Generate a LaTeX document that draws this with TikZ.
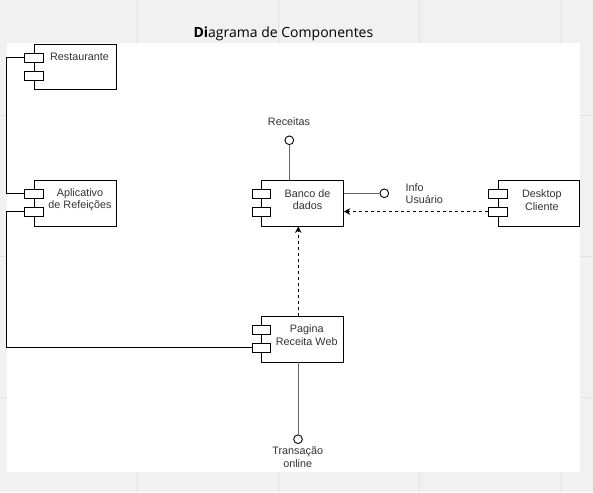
\documentclass[tikz,border=0pt]{standalone}
\usepackage{fontspec}
\setmainfont{Liberation Sans}
\newfontfamily\titlefont{Open Sans}
\usetikzlibrary{arrows.meta}
\definecolor{canvas}{RGB}{241,241,241}
\definecolor{gridline}{RGB}{227,227,227}
\definecolor{txt}{RGB}{51,51,51}

\begin{document}
\begin{tikzpicture}[x=1pt, y=-1pt, font=\fontsize{10.8}{12.7}\selectfont, node distance=136pt,
    comp/.style = {draw, line width=0.9pt, minimum width=81.6pt, minimum height=45.5pt, inner sep=0pt},
    jetty/.style = {draw, fill=white, line width=0.9pt, minimum width=18.5pt, minimum height=9pt, inner sep=0pt},
    lbl/.style = {text=txt, align=center, inner sep=0pt},
    iface/.style = {draw, circle, fill=white, line width=0.9pt, minimum size=8.7pt, inner sep=0pt},
    stick/.style = {draw=black!60, line width=1pt},
    dep/.style = {-{Stealth[length=6.5pt, width=6.5pt]}, line width=0.9pt, dash pattern=on 3pt off 3pt}]
    \useasboundingbox (0,0) rectangle (593,492);
    % canvas and grid
    \fill[canvas] (0,0) rectangle (593,492);
    \foreach \k in {1,...,4} \draw[gridline] (-4.3+141.3*\k,0) -- (-4.3+141.3*\k,492);
    \foreach \k in {1,...,3} \draw[gridline] (0,-26.3+141.3*\k) -- (593,-26.3+141.3*\k);
    \fill[white] (7,43) rectangle (580,472);
    \node[font=\titlefont\fontsize{14}{16}\selectfont, inner sep=0pt] (title) at (283.4,34) {\textbf{Di}agrama de Componentes};
    % components
    \node[comp] (rest) at (75.2,67.2) {};
    \node[comp] (app) [below of=rest] {};
    \node[comp] (bd) at (302.5,203.2) {};
    \node[comp] (web) [below of=bd] {};
    \node[comp] (desk) at (539,203.2) {};
    \foreach \c in {rest,app,bd,web,desk} {
        \node[jetty] (\c-j1) at ([yshift=-13.5pt]\c.north west) {};
        \node[jetty] (\c-j2) at ([yshift=-31.5pt]\c.north west) {};
    }
    \node[lbl] (rest-t) at ([shift={(4.3,-10.2)}]rest.center) {Restaurante};
    \node[lbl] (app-t) at ([shift={(4.8,-3.5)}]app.center) {Aplicativo\\de Refeições};
    \node[lbl] (bd-t) at ([shift={(5,-3.6)}]bd.center) {Banco de\\dados};
    \node[lbl] (web-t) at ([shift={(4.2,-4)}]web.center) {Pagina\\Receita Web};
    \node[lbl] (desk-t) at ([shift={(2.8,-3.2)}]desk.center) {Desktop\\Cliente};
    % interfaces
    \node[iface] (rec) at (289.3,140.3) {};
    \node[lbl] (rec-t) at (289,121.7) {Receitas};
    \node[iface] (info) at (384.3,193.3) {};
    \node[lbl, anchor=west, align=left] (info-t) at (405.5,193.7) {Info\\Usuário};
    \node[iface] (trans) at (298,439.2) {};
    \node[lbl] (trans-t) at (297.7,457.3) {Transação\\online};
    % connectors
    \draw[line width=0.9pt] (rest-j1.west) -- ++(-18.3,0) |- (app-j1.west);
    \draw[line width=0.9pt] (app-j2.west) -- ++(-18.3,0) |- (web-j2.west);
    \draw[stick] (rec.south) -- (rec.south |- bd.north);
    \draw[stick] (info.west) -- (info.west -| bd.east);
    \draw[stick] (trans.north) -- (trans.north |- web.south);
    \draw[dep] ([xshift=-4.2pt]web.north) -- ([xshift=-4.2pt]bd.south);
    \draw[dep] (desk-j2.west) -- (desk-j2.west -| bd.east);
\end{tikzpicture}
\end{document}
